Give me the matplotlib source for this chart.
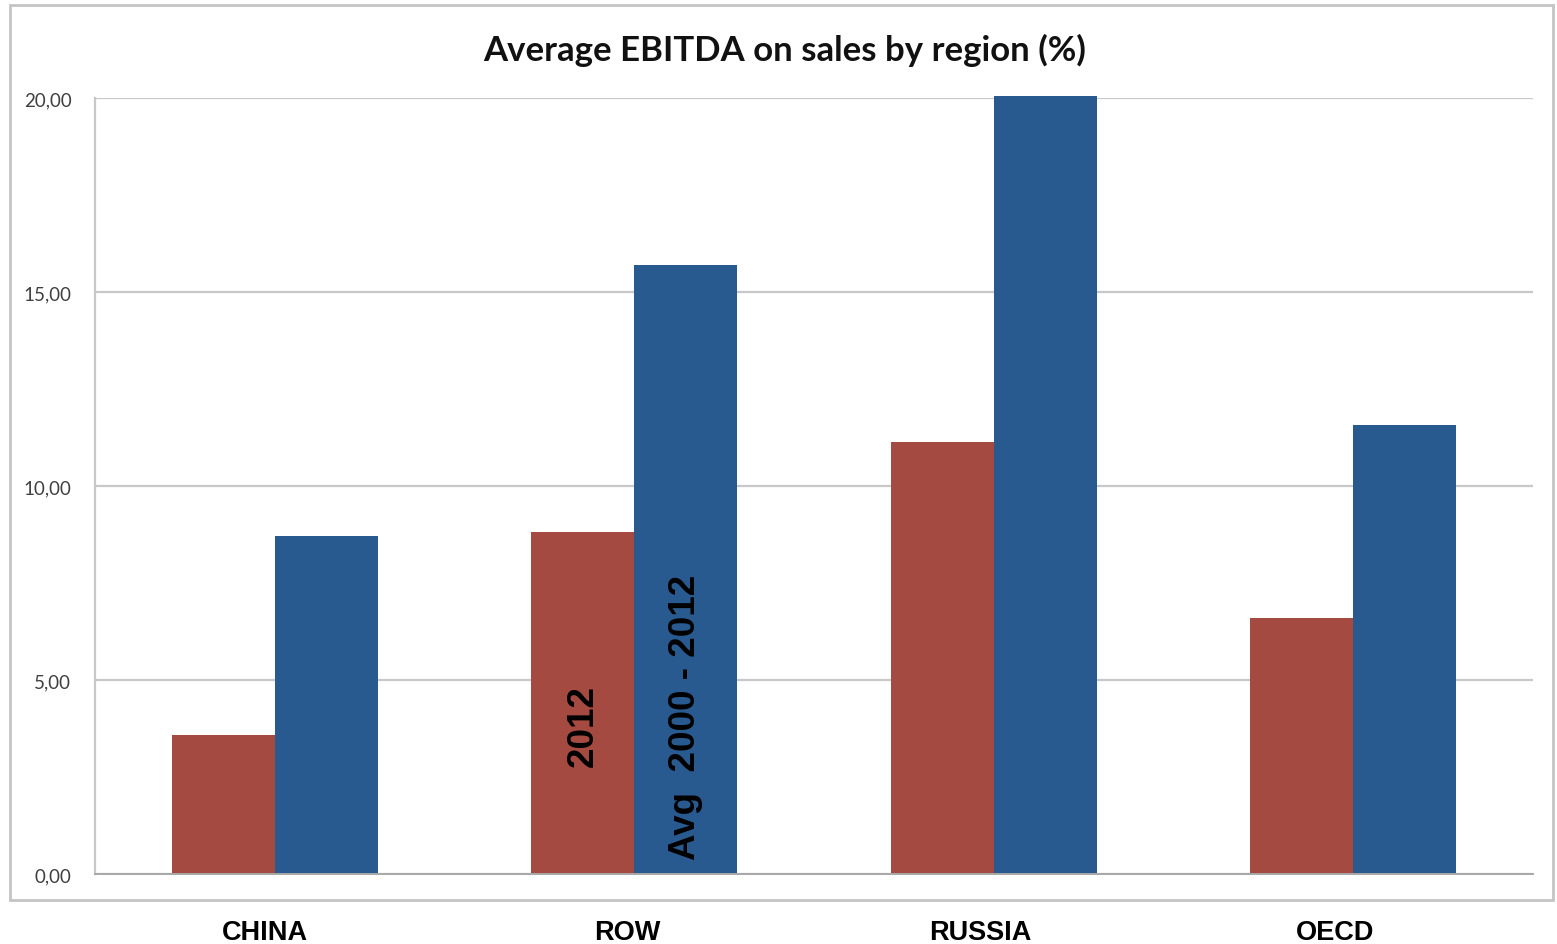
import matplotlib.pyplot as plt
from matplotlib.patches import Rectangle
from matplotlib.transforms import blended_transform_factory
import numpy as np

# values
regions = ['CHINA', 'ROW', 'RUSSIA', 'OECD']
ebitda_2012 = [3.58, 8.81, 11.13, 6.60]
ebitda_avg = [8.71, 15.70, 20.05, 11.57]
yticks = [0, 5, 10, 15, 20]
ytick_labels = ['0,00', '5,00', '10,00', '15,00', '20,00']

# category labels sit a little left of the bar groups in the original
label_shift = [-0.028, -0.019, -0.036, -0.05]

red = '#A44A40'
blue = '#285A8F'
grid_col = '#C8C8C8'

fig = plt.figure(figsize=(15.57, 9.45), dpi=100)
ax = fig.add_axes([95 / 1557, 70 / 945, (1533 - 95) / 1557, (875 - 99) / 945])

x = np.arange(len(regions))
w = 0.286
bars_red = ax.bar(x - w / 2, ebitda_2012, w, color=red, zorder=3)
bars_blue = ax.bar(x + w / 2, ebitda_avg, w, color=blue, zorder=3)
for b in bars_blue:
    b.set_clip_on(False)

ax.set_xlim(-0.5, len(regions) - 0.5)
ax.set_ylim(0, 20)
ax.set_yticks(yticks)
ax.set_yticklabels(ytick_labels, family='Lato', fontsize=13.5, color='#404040')
ax.tick_params(axis='y', length=0, pad=17)
ax.set_xticks([])

# category names under the plot
trans = blended_transform_factory(ax.transData, fig.transFigure)
for i, name in enumerate(regions):
    ax.text(x[i] + label_shift[i], 1 - 933 / 945, name, transform=trans,
            ha='center', va='center', family='Liberation Sans', fontweight='bold',
            fontsize=19.5, color='black', clip_on=False)

ax.grid(axis='y', color=grid_col, linewidth=1.6, zorder=0)
for s in ['top', 'right']:
    ax.spines[s].set_visible(False)
ax.spines['left'].set_color(grid_col)
ax.spines['left'].set_linewidth(1.6)
ax.spines['bottom'].set_color('#A8A8A8')
ax.spines['bottom'].set_linewidth(1.4)
ax.spines['bottom'].set_zorder(4)

# series labels written inside the ROW bars
ax.text(1 - w / 2, 3.84, '2012', rotation=90, ha='center', va='center',
        family='Liberation Sans', fontweight='bold', fontsize=26.5, color='black', zorder=5)
ax.text(1 + w / 2, 4.05, 'Avg  2000 - 2012', rotation=90, ha='center', va='center',
        family='Liberation Sans', fontweight='bold', fontsize=26.5, color='black', zorder=5)

fig.text(785 / 1557, 1 - 50 / 945, 'Average EBITDA on sales by region (%)',
         ha='center', va='center', family='Lato', fontweight='bold', fontsize=25, color='#111111')

# outer chart frame
frame = Rectangle((10 / 1557, 44 / 945), 1543 / 1557, 895 / 945, transform=fig.transFigure,
                  fill=False, edgecolor='#C4C4C4', linewidth=2)
fig.patches.append(frame)

fig.savefig('out.png', dpi=100)
